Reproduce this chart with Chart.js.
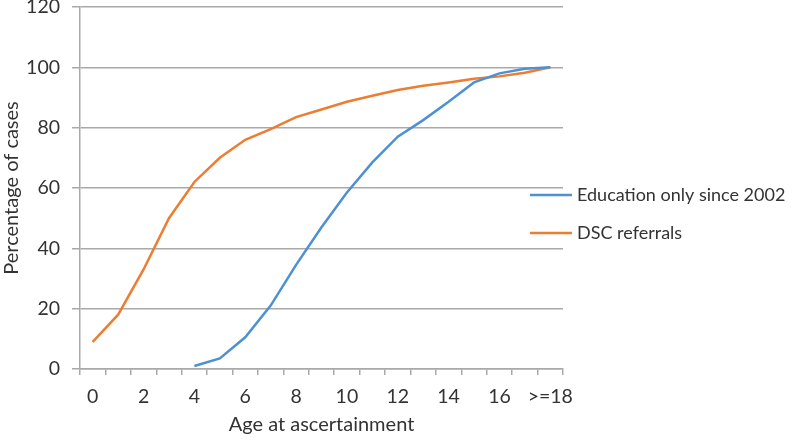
<!DOCTYPE html>
<html>
<head>
<meta charset="utf-8">
<script src="https://cdn.jsdelivr.net/npm/chart.js@4"></script>
<style>
  html, body { margin: 0; padding: 0; background: #fff; }
  #wrap { width: 800px; height: 441px; }
</style>
</head>
<body>
<div id="wrap"><canvas id="c" width="800" height="441"></canvas></div>
<script>
const categories = ['0','1','2','3','4','5','6','7','8','9','10','11','12','13','14','15','16','17','>=18'];
const tickLabels = ['0','','2','','4','','6','','8','','10','','12','','14','','16','','>=18'];
const seriesNames = ['Education only since 2002', 'DSC referrals'];
const educationOnly = [null, null, null, null, 1, 3.5, 10.5, 21, 34.5, 47, 58.5, 68.5, 77, 82.5, 88.6, 95, 98, 99.5, 100];
const dscReferrals = [9, 18, 33, 50, 62, 70, 76, 79.5, 83.5, 86, 88.6, 90.6, 92.5, 93.9, 95, 96.2, 97, 98.2, 100];
const yTicks = [0, 20, 40, 60, 80, 100, 120];

const FONT = 'Lato, "Open Sans", sans-serif';
const TEXT = '#333333';
const GRID = '#a9a9a9';

const legendPlugin = {
  id: 'sideLegend',
  afterDraw(chart) {
    const ctx = chart.ctx;
    const area = chart.chartArea;
    const x0 = area.right - 33;
    const yMid = (area.top + area.bottom) / 2;
    ctx.save();
    chart.data.datasets.forEach((ds, i) => {
      const y = yMid + 7 + i * 38;
      ctx.strokeStyle = ds.borderColor;
      ctx.lineWidth = 2.5;
      ctx.beginPath();
      ctx.moveTo(x0, y);
      ctx.lineTo(x0 + 42, y);
      ctx.stroke();
      ctx.fillStyle = TEXT;
      ctx.font = '18px ' + FONT;
      ctx.textBaseline = 'middle';
      ctx.textAlign = 'left';
      ctx.fillText(ds.label, x0 + 47, y);
    });
    ctx.restore();
  }
};

new Chart(document.getElementById('c'), {
  type: 'line',
  data: {
    labels: categories,
    datasets: [
      { label: seriesNames[0], data: educationOnly, borderColor: '#4e91d2', borderWidth: 2.5, pointRadius: 0, tension: 0, fill: false },
      { label: seriesNames[1], data: dscReferrals, borderColor: '#ed7d31', borderWidth: 2.5, pointRadius: 0, tension: 0, fill: false }
    ]
  },
  options: {
    responsive: false,
    animation: false,
    devicePixelRatio: 1,
    layout: { padding: { left: 0, right: 237, top: 0, bottom: 0 } },
    plugins: {
      legend: { display: false },
      tooltip: { enabled: false }
    },
    scales: {
      x: {
        offset: true,
        afterFit: (s) => { s.height = 72; s.paddingLeft = 0; s.paddingRight = 0; },
        grid: { display: true, offset: true, drawOnChartArea: false, drawTicks: true, tickLength: 6, color: GRID, lineWidth: 1.5 },
        border: { display: true, color: GRID, width: 1.5 },
        ticks: {
          autoSkip: false, maxRotation: 0, padding: 10.3, color: TEXT,
          font: { family: FONT, size: 19.5, lineHeight: 1.2 },
          callback: (v, i) => tickLabels[i]
        },
        title: { display: true, text: 'Age at ascertainment', color: TEXT, font: { family: FONT, size: 20, lineHeight: 1.2 }, padding: { top: 0, bottom: 4 } }
      },
      y: {
        min: 0, max: 120,
        afterBuildTicks: (axis) => { axis.ticks = yTicks.map(v => ({ value: v })); },
        afterFit: (s) => { s.width = 80; s.paddingTop = 7; s.paddingBottom = 0; },
        grid: { color: GRID, lineWidth: 1.5, drawTicks: true, tickLength: 8 },
        border: { display: true, color: GRID, width: 1.5 },
        ticks: { padding: 12, color: TEXT, font: { family: FONT, size: 19.5, lineHeight: 1.2 } },
        title: { display: true, text: 'Percentage of cases', color: TEXT, font: { family: FONT, size: 20, lineHeight: 1.2 }, padding: { top: 0, bottom: 4 } }
      }
    }
  },
  plugins: [legendPlugin]
});
</script>
</body>
</html>
